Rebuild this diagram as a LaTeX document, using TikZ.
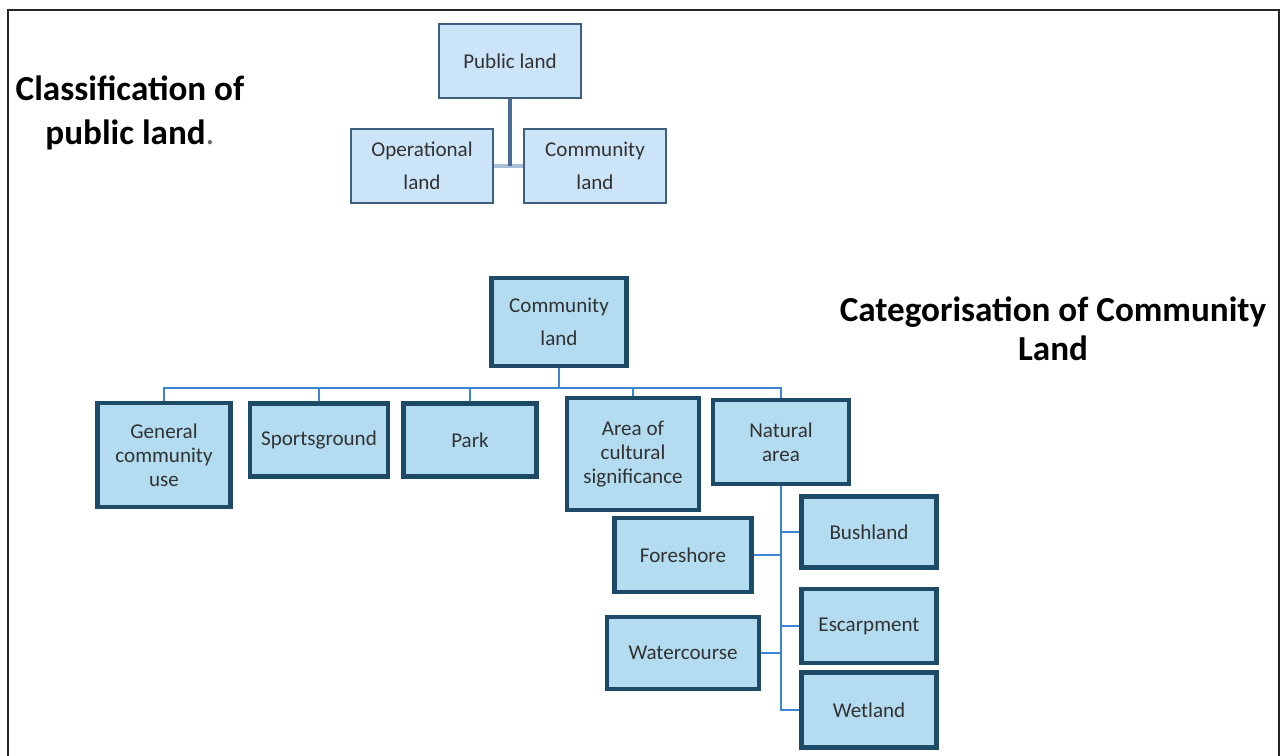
\documentclass[tikz,border=0pt]{standalone}
\usepackage{fontspec}
\setmainfont{Carlito}
\usepackage{tikz}
\usetikzlibrary{positioning}
\usetikzlibrary{calc}
\definecolor{topfill}{RGB}{204,228,248}
\definecolor{topedge}{RGB}{63,95,127}
\definecolor{topstem}{RGB}{74,107,152}
\definecolor{topbar}{RGB}{168,190,219}
\definecolor{boxfill}{RGB}{179,220,241}
\definecolor{boxedge}{RGB}{29,74,102}
\definecolor{branchblue}{RGB}{60,133,209}
\definecolor{boxtext}{RGB}{50,50,50}

\begin{document}
\begin{tikzpicture}[x=0.02cm, y=-0.02cm,
			toplevel/.style={draw=topedge, fill=topfill, line width=1.3pt, rectangle, minimum width=2.84cm, minimum height=1.48cm, text=boxtext},
			category/.style={draw=boxedge, fill=boxfill, line width=2.6pt, rectangle, minimum width=2.7cm, minimum height=1.46cm, text=boxtext},
			branch/.style={draw=branchblue, line width=1.1pt},
			heading/.style={font=\fontsize{20}{23}\selectfont\bfseries, align=center},
			every text node part/.style={align=center},
			every node/.style={font=\fontsize{12}{13.6}\selectfont}]
			\useasboundingbox (0,0) rectangle (1282,756);
			% frame
			\draw[line width=1.1pt, black!85] (8,756) -- (8,10) -- (1279,10) -- (1279,756);
			
			\node[heading](classif) at (130,113) {Classification of\\[2pt] public land{\mdseries\color{black!60}.}};
			\node[heading](categ) at (1053,329) {Categorisation of Community\\[-1pt] Land};
			
			\node[toplevel](public) at (510,61) {Public land};
			\node[toplevel](operational) at (422,166) {Operational\\[5pt] land};
			\node[toplevel](communitytop) at (595,166) {Community\\[5pt] land};
			\draw[topbar, line width=2.2pt] (operational.east) -- (communitytop.west);
			\draw[topstem, line width=2.6pt] (public.south) -- (public.south |- operational.east);
			
			\node[category, minimum height=1.76cm](community) at (559,322) {Community\\[5pt] land};
			\node[category, minimum width=2.66cm, minimum height=2.08cm](general) at (164,455) {General\\ community\\ use};
			\node[category, minimum width=2.76cm](sports) at (319,440) {Sportsground};
			\node[category, minimum width=2.66cm](park) at (470,440) {Park};
			\node[category, minimum width=2.64cm, minimum height=2.24cm](area) at (633,454) {Area of\\ cultural\\ significance};
			\node[category, minimum width=2.72cm, minimum height=1.68cm](natural) at (781,442) {Natural\\ area};
			
			\node[category, minimum height=1.42cm](bushland) at (869,532) {Bushland};
			\node[category, minimum height=1.48cm](escarpment) at (869,626) {Escarpment};
			\node[category, minimum height=1.5cm](wetland) at (869,710) {Wetland};
			\node[category, minimum width=2.74cm, minimum height=1.48cm](foreshore) at (683,555) {Foreshore};
			\node[category, minimum width=3.04cm, minimum height=1.44cm](watercourse) at (683,653) {Watercourse};
			
			\draw[branch] (community.south) -- ++(0,20) coordinate (bus);
			\draw[branch] (general.north) |- (bus);
			\draw[branch] (sports.north) |- (bus);
			\draw[branch] (park.north) |- (bus);
			\draw[branch] (area.north) |- (bus);
			\draw[branch] (natural.north) |- (bus);
			
			\draw[branch] (natural.south) |- (wetland.west);
			\draw[branch] (bushland.west) -- (bushland.west -| natural.south);
			\draw[branch] (escarpment.west) -- (escarpment.west -| natural.south);
			\draw[branch] (foreshore.east) -- (foreshore.east -| natural.south);
			\draw[branch] (watercourse.east) -- (watercourse.east -| natural.south);
		\end{tikzpicture}
\end{document}
